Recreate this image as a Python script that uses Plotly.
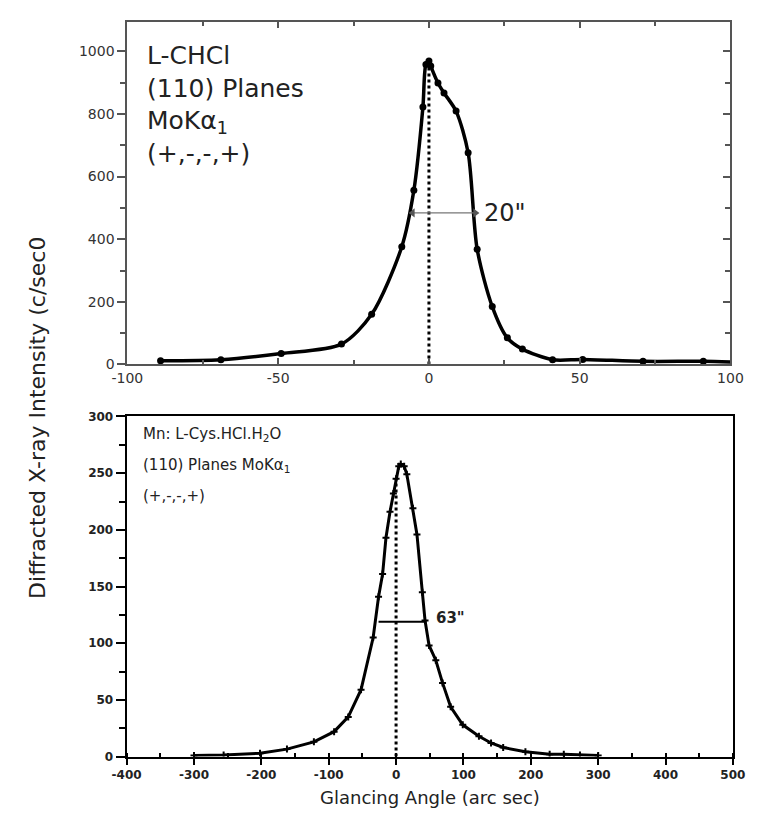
import plotly.graph_objects as go

# ---------------- data ----------------
# Top panel: L-CHCl (110) planes, MoKa1, (+,-,-,+)
x_top = [-89, -69, -49, -29, -19, -9, -5, -2, -1, 0, 0.6, 3, 5, 9, 13, 16, 21, 26, 31, 41, 51, 71, 91]
y_top = [12, 15, 35, 65, 160, 376, 556, 822, 958, 969, 953, 899, 867, 809, 676, 368, 185, 85, 49, 15, 16, 10, 10]
x_top_end = [100]
y_top_end = [8]
top_fwhm_x = [-5.4, 15.4]
top_fwhm_y = 484
top_fwhm_label = '20"'
top_xticks = [-100, -50, 0, 50, 100]
top_xlabels = ["-100", "-50", "0", "50", "100"]
top_yticks = [0, 200, 400, 600, 800, 1000]
top_ylabels = ["0", "200", "400", "600", "800", "1000"]

# Bottom panel: Mn: L-Cys.HCl.H2O (110) planes
x_bot = [-300, -256, -202, -162, -122, -92, -71, -52, -34, -26, -20, -15, -9, -4, 0, 4, 7, 12, 16,
         25, 31, 39, 43, 49, 59, 69, 81, 99, 123, 141, 159, 192, 228, 249, 273, 300]
y_bot = [1, 1.5, 3, 6.6, 13, 22, 35, 59, 105, 141, 161, 193, 216, 232, 245, 256, 258, 256, 249,
         219, 196, 145, 120, 98, 85, 65, 44, 28, 18, 12, 8, 4.3, 2, 2, 1.4, 1]
bot_fwhm_x = [-26, 45]
bot_fwhm_y = 119
bot_fwhm_label = '63"'
bot_xticks = [-400, -300, -200, -100, 0, 100, 200, 300, 400, 500]
bot_xlabels = ["-400", "-300", "-200", "-100", "0", "100", "200", "300", "400", "500"]

top_text = ["L-CHCl", "(110) Planes", "MoKα<sub>1</sub>", "(+,-,-,+)"]
bot_text = ["Mn: L-Cys.HCl.H<sub>2</sub>O", "(110) Planes MoKα<sub>1</sub>", "(+,-,-,+)"]
y_title = "Diffracted X-ray Intensity (c/sec0"
x_title = "Glancing Angle (arc sec)"

W, H = 760, 815
OFF = 8  # page body margin
def px(x): return (x - OFF) / W
def py(y): return 1 - (y - OFF) / H

fig = go.Figure()

# ---- top panel ----
peak_i = y_top.index(max(y_top))
fig.add_trace(go.Scatter(x=[x_top[peak_i], x_top[peak_i]], y=[0, y_top[peak_i]], mode="lines",
                         line=dict(color="black", width=3, dash="dot"), xaxis="x", yaxis="y",
                         showlegend=False, hoverinfo="skip"))
fig.add_trace(go.Scatter(x=x_top + x_top_end, y=y_top + y_top_end, mode="lines",
                         line=dict(color="black", width=3.5, shape="spline", smoothing=0.8),
                         xaxis="x", yaxis="y", showlegend=False))
fig.add_trace(go.Scatter(x=x_top, y=y_top, mode="markers",
                         marker=dict(color="black", size=7), xaxis="x", yaxis="y", showlegend=False))
fig.add_trace(go.Scatter(x=top_fwhm_x, y=[top_fwhm_y, top_fwhm_y], mode="lines+markers",
                         line=dict(color="#777", width=1.2),
                         marker=dict(symbol=["triangle-left", "triangle-right"], size=8, color="#555"),
                         xaxis="x", yaxis="y", showlegend=False))
fig.add_trace(go.Scatter(x=[], y=[], xaxis="x", yaxis="y3", showlegend=False))

fig.add_annotation(x=top_fwhm_x[1] + 2.3, y=top_fwhm_y, xref="x", yref="y", text=top_fwhm_label,
                   showarrow=False, xanchor="left", yanchor="middle",
                   font=dict(family="DejaVu Sans", size=24, color="#222"))

for t, yy in zip(top_text, [49, 83, 117, 149]):
    fig.add_annotation(x=px(134), y=py(yy), xref="paper", yref="paper", text=t, showarrow=False,
                       xanchor="left", yanchor="middle",
                       font=dict(family="DejaVu Sans", size=25, color="#222"))

# ---- bottom panel ----
zero_i = x_bot.index(0)
fig.add_trace(go.Scatter(x=[0, 0], y=[0, y_bot[zero_i]], mode="lines",
                         line=dict(color="black", width=3, dash="dot"), xaxis="x2", yaxis="y2",
                         showlegend=False, hoverinfo="skip"))
fig.add_trace(go.Scatter(x=x_bot, y=y_bot, mode="lines+markers",
                         line=dict(color="black", width=3),
                         marker=dict(symbol="cross-thin", size=5, line=dict(color="black", width=2)),
                         xaxis="x2", yaxis="y2", showlegend=False))
fig.add_trace(go.Scatter(x=bot_fwhm_x, y=[bot_fwhm_y, bot_fwhm_y], mode="lines",
                         line=dict(color="black", width=2), xaxis="x2", yaxis="y2", showlegend=False))
fig.add_annotation(x=bot_fwhm_x[1] + 12, y=bot_fwhm_y + 3, xref="x2", yref="y2", text=bot_fwhm_label,
                   showarrow=False, xanchor="left", yanchor="middle",
                   font=dict(family="DejaVu Sans", size=15, color="#222", weight="bold"))

for t, yy in zip(bot_text, [435, 467, 498]):
    fig.add_annotation(x=px(130), y=py(yy), xref="paper", yref="paper", text=t, showarrow=False,
                       xanchor="left", yanchor="middle",
                       font=dict(family="DejaVu Sans", size=15, color="#222"))

fig.add_annotation(x=px(22), y=py(418), xref="paper", yref="paper", text=y_title, textangle=-90,
                   showarrow=False, xanchor="center", yanchor="middle",
                   font=dict(family="DejaVu Sans", size=22, color="#222"))
fig.add_annotation(x=px(430), y=py(805), xref="paper", yref="paper", text=x_title,
                   showarrow=False, xanchor="center", yanchor="middle",
                   font=dict(family="DejaVu Sans", size=18, color="#222"))

tf_top = dict(family="DejaVu Sans", size=14, color="#333")
tf_bot = dict(family="DejaVu Sans", size=12, color="#222", weight="bold")

fig.update_layout(
    width=W, height=H, margin=dict(l=0, r=0, t=0, b=0),
    paper_bgcolor="white", plot_bgcolor="white", showlegend=False,
    xaxis=dict(domain=[px(115.5), px(742.5)], anchor="y", range=[-100, 100],
               tickmode="array", tickvals=top_xticks, ticktext=top_xlabels,
               ticks="inside", ticklen=6, tickcolor="#555", tickwidth=1.5,
               minor=dict(dtick=25, ticks="inside", ticklen=4, tickcolor="#555"),
               showline=True, linecolor="#555", linewidth=2, mirror="ticks",
               showgrid=False, zeroline=False, tickfont=tf_top),
    yaxis=dict(domain=[py(364), py(15)], anchor="x", range=[0, 1094],
               tickmode="array", tickvals=top_yticks, ticktext=top_ylabels,
               ticks="outside", ticklen=8, tickcolor="#555", tickwidth=1.5,
               minor=dict(dtick=100, ticks="outside", ticklen=5, tickcolor="#555"),
               showline=True, linecolor="#555", linewidth=2, mirror=True,
               showgrid=False, zeroline=False, tickfont=tf_top),
    yaxis3=dict(overlaying="y", anchor="x", side="right", range=[0, 1094], dtick=200,
                ticks="inside", ticklen=7, tickcolor="#555", tickwidth=1.5,
                minor=dict(dtick=100, ticks="inside", ticklen=5, tickcolor="#555"),
                showticklabels=False, showline=False, showgrid=False, zeroline=False),
    xaxis2=dict(domain=[px(114.7), px(745)], anchor="y2", range=[-400, 500],
                tickmode="array", tickvals=bot_xticks, ticktext=bot_xlabels,
                ticks="outside", ticklen=6, tickcolor="black", tickwidth=1.5,
                minor=dict(dtick=50, ticks="inside", ticklen=4, tickcolor="black"),
                showline=True, linecolor="black", linewidth=2, mirror=True,
                showgrid=False, zeroline=False, tickfont=tf_bot),
    yaxis2=dict(domain=[py(763.5), py(417)], anchor="x2", range=[0, 300], dtick=50,
                ticks="outside", ticklen=9, tickcolor="black", tickwidth=1.5,
                minor=dict(dtick=25, ticks="outside", ticklen=6, tickcolor="black"),
                showline=True, linecolor="black", linewidth=2, mirror=True,
                showgrid=False, zeroline=False, tickfont=tf_bot),
)

fig.write_html("out.html")
